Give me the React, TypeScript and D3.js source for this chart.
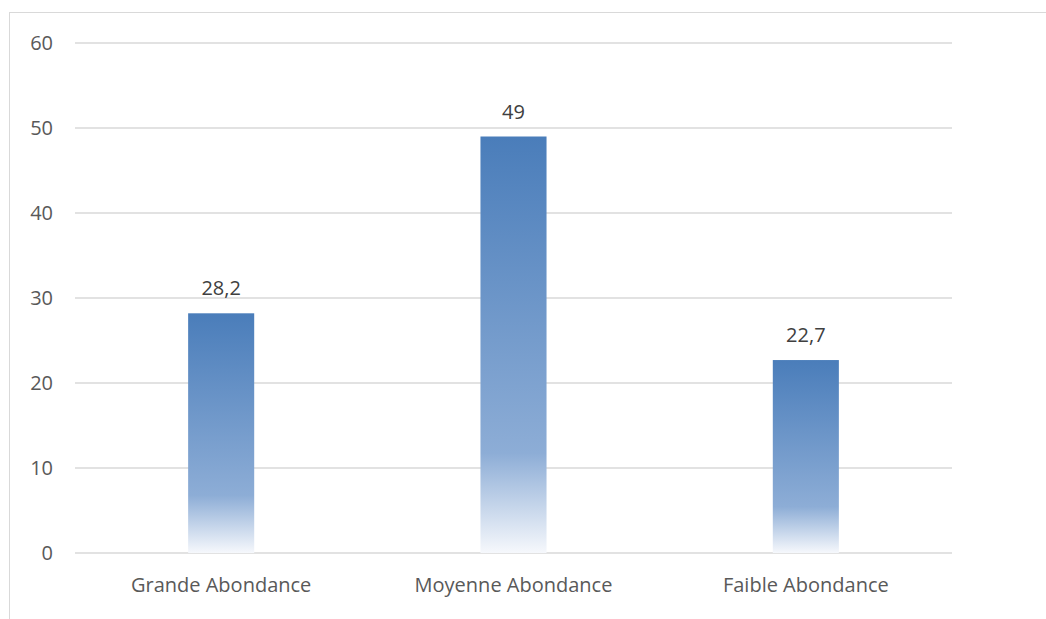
import React from "react";
import * as d3 from "d3";

const categories = ["Grande Abondance", "Moyenne Abondance", "Faible Abondance"];
const values = [28.2, 49, 22.7];
const valueLabels = ["28,2", "49", "22,7"];
const yTicks = [0, 10, 20, 30, 40, 50, 60];

const width = 1046;
const height = 619;
const margin = { top: 43, right: 94, bottom: 66, left: 75 };

const App: React.FC = () => {
  const innerW = width - margin.left - margin.right;
  const innerH = height - margin.top - margin.bottom;

  const x = d3.scaleBand<string>().domain(categories).range([0, innerW]).paddingInner(0.774).paddingOuter(0.387);
  const y = d3.scaleLinear().domain([0, 60]).range([innerH, 0]);
  const font = "'Open Sans', 'Liberation Sans', sans-serif";

  return (
    <svg
      width={width}
      height={height}
      style={{ position: "absolute", left: 0, top: 0, background: "#fff" }}
    >
      <defs>
        <linearGradient id="barFill" x1="0" y1="0" x2="0" y2="1">
          <stop offset="0" stopColor="#4a7dba" />
          <stop offset="0.76" stopColor="#8dadd6" />
          <stop offset="1" stopColor="#f6f8fc" />
        </linearGradient>
      </defs>
      <rect x={9.5} y={12.5} width={width} height={height} fill="none" stroke="#d9d9d9" />
      <g transform={`translate(${margin.left},${margin.top})`}>
        {yTicks.map(t => (
          <g key={t}>
            <line x1={0} x2={innerW} y1={y(t)} y2={y(t)} stroke="#d9d9d9" strokeWidth={1.3} />
            <text
              x={-22}
              y={y(t)}
              dy="0.36em"
              textAnchor="end"
              fontFamily={font}
              fontSize={20}
              fill="#595959"
            >
              {t}
            </text>
          </g>
        ))}
        {categories.map((c, i) => (
          <g key={c}>
            <rect
              x={x(c)}
              y={y(values[i])}
              width={x.bandwidth()}
              height={innerH - y(values[i])}
              fill="url(#barFill)"
            />
            <text
              x={(x(c) ?? 0) + x.bandwidth() / 2}
              y={y(values[i]) - 18}
              textAnchor="middle"
              fontFamily={font}
              fontSize={20}
              fill="#404040"
            >
              {valueLabels[i]}
            </text>
            <text
              x={(x(c) ?? 0) + x.bandwidth() / 2}
              y={innerH + 39}
              textAnchor="middle"
              fontFamily={font}
              fontSize={20}
              fill="#595959"
            >
              {c}
            </text>
          </g>
        ))}
      </g>
    </svg>
  );
};

export default App;
